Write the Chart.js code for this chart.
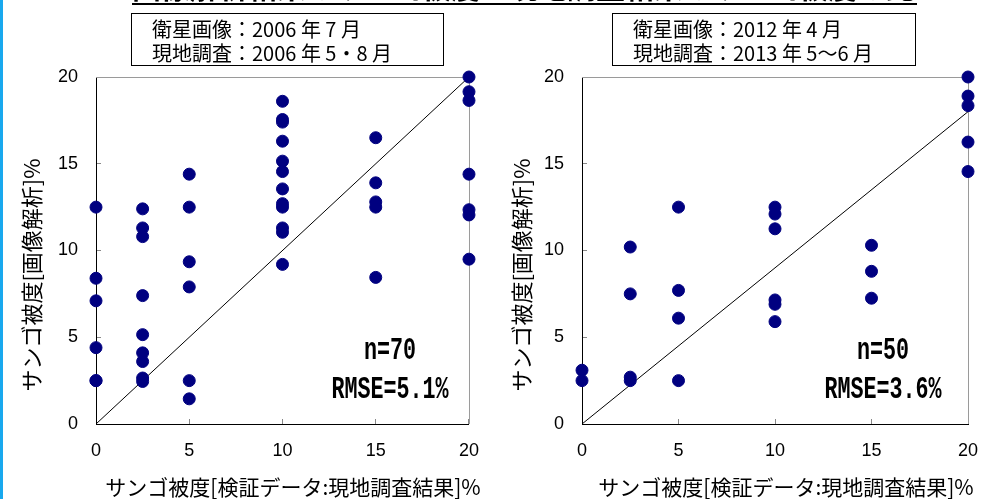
<!DOCTYPE html>
<html>
<head>
<meta charset="utf-8">
<script src="https://cdn.jsdelivr.net/npm/chart.js@4.4.1/dist/chart.umd.min.js"></script>
<style>
  body { margin: 0; width: 1002px; height: 499px; background: #fff; position: relative; overflow: hidden; }
  #edge { position: absolute; left: 0; top: 0; width: 3px; height: 499px; background: #18a8ee; }
  #c1 { position: absolute; left: 0; top: 0; }
  #c2 { position: absolute; left: 486px; top: 0; }
  #ttl { position: absolute; left: 132px; top: -27px; width: 785px; height: 30px; border-bottom: 2px solid #000;
         font: bold 29px "Noto Sans CJK JP"; line-height: 27px; text-align: center; white-space: nowrap; overflow: hidden; }
  .box { position: absolute; top: 13px; height: 53px; box-sizing: border-box; border: 1px solid #000; background: #fff;
         font: 20px "Noto Sans CJK JP"; line-height: 24px; padding: 3px 0 0 20px; white-space: nowrap; color: #000; }
</style>
</head>
<body>
<div id="edge"></div>
<canvas id="c1" width="500" height="499"></canvas>
<canvas id="c2" width="516" height="499"></canvas>
<div id="ttl">画像解析結果のサンゴ被度と現地調査結果のサンゴ被度の比較</div>
<div class="box" style="left:131px;width:313px">衛星画像：2006 年 7 月<br>現地調査：2006 年 5・8 月</div>
<div class="box" style="left:612px;width:304px">衛星画像：2012 年 4 月<br>現地調査：2013 年 5～6 月</div>
<script>
// field survey classes (x) and image-derived cover (y) read per column
const xCols = [0, 2.5, 5, 10, 15, 20];

const y2006_0 = [12.5, 8.4, 7.1, 4.4, 2.5, 2.5];
const y2006_2 = [12.4, 11.3, 10.8, 7.4, 5.15, 4.1, 3.6, 2.65, 2.45];
const y2006_5 = [14.4, 12.5, 9.35, 7.9, 2.5, 1.45];
const y2006_10 = [18.6, 17.55, 17.4, 16.3, 15.15, 14.55, 13.55, 12.7, 12.5, 11.3, 11.05, 9.2];
const y2006_15 = [16.5, 13.9, 12.8, 12.5, 8.45];
const y2006_20 = [20, 19.15, 18.65, 14.4, 12.35, 12.05, 9.5];

const y2012_0 = [3.1, 2.5];
const y2012_2 = [10.2, 7.5, 2.7, 2.5];
const y2012_5 = [12.5, 7.7, 6.1, 2.5];
const y2012_10 = [12.5, 12.1, 11.25, 7.15, 6.9, 5.9];
const y2012_15 = [10.3, 8.8, 7.25];
const y2012_20 = [20, 18.9, 18.35, 16.25, 14.55];

const fitX = [0, 20];
const fit2006 = [0, 20];
const fit2012 = [0, 18];

const yTitle = 'サンゴ被度[画像解析]%';
const xTitle = 'サンゴ被度[検証データ:現地調査結果]%';

function toPoints(cols) {
  let pts = [];
  cols.forEach((ys, i) => ys.forEach(y => pts.push({x: xCols[i], y: y})));
  return pts;
}

const deco = {
  id: 'deco',
  beforeDatasetsDraw(chart, args, o) {
    const a = chart.chartArea, c = chart.ctx;
    c.save();
    c.strokeStyle = '#9a9a9a';
    c.lineWidth = 1;
    c.beginPath();
    c.moveTo(a.left, a.top + 0.5);
    c.lineTo(a.right + 0.5, a.top + 0.5);
    c.lineTo(a.right + 0.5, a.bottom);
    c.stroke();
    c.restore();
  },
  afterDraw(chart, args, o) {
    const c = chart.ctx;
    c.save();
    c.fillStyle = '#000';
    c.textAlign = 'center';
    c.textBaseline = 'middle';
    c.font = '21px "Noto Sans CJK JP"';
    c.fillText(xTitle, o.xTitleX, 487);
    c.save();
    c.translate(o.yTitleX, 275);
    c.rotate(-Math.PI / 2);
    c.font = '22px "Noto Sans CJK JP"';
    c.fillText(yTitle, 0, 0);
    c.restore();
    c.font = 'bold 31px "Liberation Mono"';
    for (const [txt, y] of [[o.n, 351], [o.rmse, 390]]) {
      c.save();
      c.translate(o.annX, y);
      c.scale(0.7, 1);
      c.fillText(txt, 0, 0);
      c.restore();
    }
    c.restore();
  }
};

function makeChart(id, cols, fitY, padRight, deco_opts) {
  const tickFont = {family: 'Liberation Sans', size: 18};
  return new Chart(document.getElementById(id), {
    type: 'scatter',
    data: {
      datasets: [{
        data: toPoints(cols),
        backgroundColor: '#000080',
        borderColor: '#000080',
        borderWidth: 1,
        pointRadius: 6,
        pointHoverRadius: 6,
        clip: false
      }, {
        data: fitX.map((x, i) => ({x: x, y: fitY[i]})),
        showLine: true,
        borderColor: '#000',
        borderWidth: 1,
        pointRadius: 0,
        clip: false
      }]
    },
    options: {
      responsive: false,
      animation: false,
      layout: {padding: {top: 77, right: padRight, left: 0, bottom: 0}},
      plugins: {legend: {display: false}, tooltip: {enabled: false}, deco: deco_opts},
      scales: {
        x: {
          type: 'linear', min: 0, max: 20,
          afterFit: s => { s.height = 75; },
          ticks: {stepSize: 5, font: tickFont, color: '#000', padding: 21, maxRotation: 0},
          grid: {display: true, drawOnChartArea: false, tickLength: -5, color: '#888'},
          border: {color: '#000', width: 1}
        },
        y: {
          type: 'linear', min: 0, max: 20,
          afterFit: s => { s.width = 96; },
          ticks: {stepSize: 5, font: tickFont, color: '#000', padding: 23},
          grid: {display: true, drawOnChartArea: false, tickLength: -5, color: '#888'},
          border: {color: '#000', width: 1}
        }
      }
    },
    plugins: [deco]
  });
}

makeChart('c1', [y2006_0, y2006_2, y2006_5, y2006_10, y2006_15, y2006_20], fit2006, 23,
  {xTitleX: 293, yTitleX: 32, annX: 390, n: 'n=70', rmse: 'RMSE=5.1%'});
makeChart('c2', [y2012_0, y2012_2, y2012_5, y2012_10, y2012_15, y2012_20], fit2012, 34,
  {xTitleX: 300, yTitleX: 36, annX: 397, n: 'n=50', rmse: 'RMSE=3.6%'});
</script>
</body>
</html>
